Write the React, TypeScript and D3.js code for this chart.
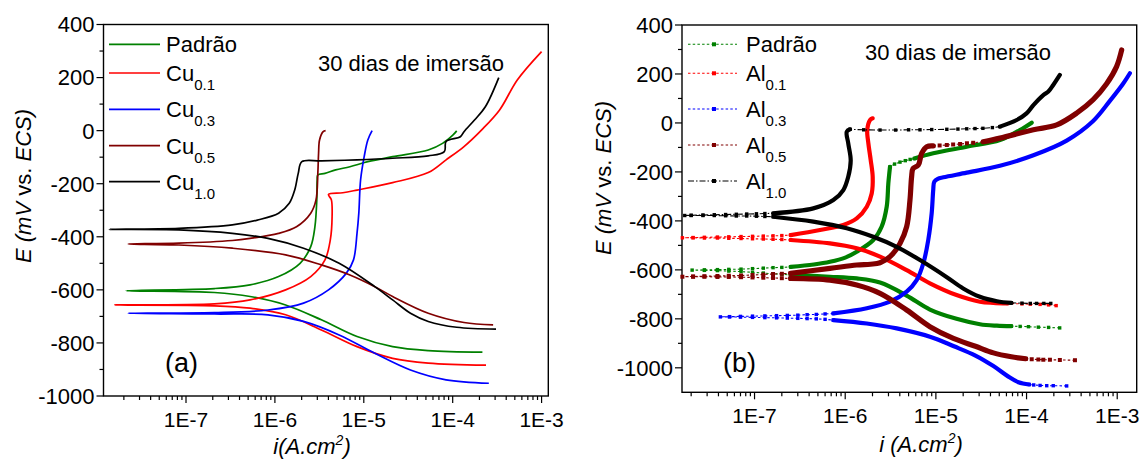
import React from 'react';
import * as d3 from 'd3';

type Pt = [number, number];

// ===== Panel (a): [i (A/cm²), E (mV vs ECS)] along each scan (cathodic end -> Ecorr -> anodic end)
const aPadrao: Pt[] = [
  [2.16e-4, -835], [5.31e-5, -829], [2.11e-5, -814], [8.39e-6, -776], [3.33e-6, -713], [1.32e-6, -657],
  [5.26e-7, -625], [2.09e-7, -610], [2.12e-8, -603],
  [2.09e-7, -595], [5.26e-7, -581], [1.10e-6, -550], [1.92e-6, -500], [2.53e-6, -437], [2.82e-6, -362],
  [2.96e-6, -261], [2.99e-6, -186], [3.04e-6, -167], [3.66e-6, -161], [4.82e-6, -148], [6.98e-6, -136],
  [1.11e-5, -117], [2.11e-5, -98], [5.31e-5, -73], [7.69e-5, -48], [1.01e-4, -16], [1.11e-4, -1],
];
const aCu01: Pt[] = [
  [2.37e-4, -884], [5.31e-5, -876], [2.11e-5, -858], [8.39e-6, -814], [3.33e-6, -751], [1.32e-6, -694],
  [5.26e-7, -669], [2.09e-7, -660], [1.58e-8, -657],
  [2.09e-7, -653], [5.26e-7, -638], [1.32e-6, -600], [2.53e-6, -550], [3.66e-6, -487], [4.20e-6, -412],
  [4.40e-6, -324], [4.32e-6, -261], [4.01e-6, -240], [5.81e-6, -234], [8.39e-6, -224], [2.11e-5, -196],
  [5.31e-5, -158], [8.43e-5, -110], [1.34e-4, -60], [2.12e-4, 3], [3.37e-4, 78], [5.33e-4, 191], [1.0e-3, 298],
];
const aCu03: Pt[] = [
  [2.55e-4, -952], [8.43e-5, -939], [3.35e-5, -902], [1.33e-5, -839], [5.28e-6, -770], [2.10e-6, -719],
  [8.36e-7, -694], [2.09e-7, -691], [2.24e-8, -688],
  [2.09e-7, -686], [8.36e-7, -676], [2.10e-6, -650], [4.01e-6, -600], [6.37e-6, -537], [7.66e-6, -487],
  [8.39e-6, -387], [8.79e-6, -311], [9.20e-6, -186], [1.01e-5, -98], [1.11e-5, -35], [1.24e-5, 0],
];
const aCu05: Pt[] = [
  [2.85e-4, -732], [1.34e-4, -723], [5.31e-5, -688], [2.11e-5, -625], [1.33e-5, -588], [6.98e-6, -544],
  [3.33e-6, -506], [1.32e-6, -468], [3.32e-7, -443], [8.32e-8, -431], [2.24e-8, -427],
  [8.32e-8, -424], [3.32e-7, -414], [5.26e-7, -406], [1.10e-6, -387], [1.75e-6, -362], [2.53e-6, -311],
  [2.90e-6, -261], [3.04e-6, -161], [3.10e-6, -85], [3.18e-6, -35], [3.49e-6, -4], [3.72e-6, 0],
];
const aCu10: Pt[] = [
  [3.07e-4, -748], [1.11e-4, -741], [5.31e-5, -719], [3.35e-5, -688], [2.11e-5, -638], [1.33e-5, -588],
  [5.28e-6, -500], [2.10e-6, -443], [8.36e-7, -406], [3.32e-7, -387], [8.32e-8, -374], [1.37e-8, -372],
  [8.32e-8, -368], [3.32e-7, -355], [6.34e-7, -337], [1.10e-6, -311], [1.45e-6, -274], [1.67e-6, -224],
  [1.83e-6, -161], [2.01e-6, -117], [3.33e-6, -114], [8.39e-6, -110], [2.11e-5, -104], [5.31e-5, -95],
  [8.05e-5, -79], [8.43e-5, -41], [1.22e-4, -23], [1.34e-4, -4], [1.76e-4, 40], [2.33e-4, 90], [3.30e-4, 200],
];

// ===== Panel (b): parts of each scan; "Tail/Ecorr/Pass" = sparse (markers), others = dense
const bPadCathTail: Pt[] = [[2.32e-4, -837], [1.75e-4, -835], [1.35e-4, -834], [1.05e-4, -832], [8.5e-5, -831], [6.8e-5, -830]];
const bPadCath: Pt[] = [[6.8e-5, -830], [4.7e-5, -828], [3.06e-5, -822], [1.69e-5, -800], [8.6e-6, -762], [4.76e-6, -705], [2.42e-6, -652], [1.34e-6, -635], [6.8e-7, -628], [2.5e-7, -621]];
const bPadEcorr: Pt[] = [[2.5e-7, -621], [2.0e-7, -618], [1.6e-7, -616], [1.25e-7, -613], [9.5e-8, -610], [7.1e-8, -607], [5.2e-8, -605], [3.9e-8, -603], [2.8e-8, -602], [2.05e-8, -601], [2.8e-8, -600], [3.9e-8, -599], [5.2e-8, -598], [7.1e-8, -597], [9.5e-8, -595], [1.25e-7, -593], [1.6e-7, -591], [2.0e-7, -590], [2.5e-7, -588]];
const bPadAnod: Pt[] = [[2.5e-7, -588], [4.5e-7, -578], [6.8e-7, -567], [1.0e-6, -550], [1.34e-6, -526], [2.04e-6, -478], [2.52e-6, -424], [2.87e-6, -342], [2.99e-6, -247], [3.12e-6, -179]];
const bPadPass: Pt[] = [[3.12e-6, -179], [3.5e-6, -168], [4.02e-6, -160], [4.6e-6, -154], [5.2e-6, -149], [5.8e-6, -145]];
const bPadAnod2: Pt[] = [[5.8e-6, -145], [9.35e-6, -124], [2.19e-5, -97], [5.09e-5, -70], [8.45e-5, -29], [1.14e-4, 1]];

const bAl01CathTail: Pt[] = [[2.12e-4, -746], [1.75e-4, -743], [1.41e-4, -741], [1.1e-4, -740], [8.9e-5, -739], [6.2e-5, -737]];
const bAl01Cath: Pt[] = [[6.2e-5, -737], [4.3e-5, -735], [3.06e-5, -730], [1.69e-5, -703], [8.6e-6, -655], [4.76e-6, -601], [2.42e-6, -546], [1.34e-6, -512], [6.8e-7, -492], [2.5e-7, -478]];
const bAl01Ecorr: Pt[] = [[2.5e-7, -478], [2.0e-7, -476], [1.6e-7, -475], [1.25e-7, -474], [9.5e-8, -473], [7.1e-8, -472], [5.2e-8, -471], [3.9e-8, -470], [2.8e-8, -470], [2.1e-8, -469], [1.6e-8, -469], [2.1e-8, -468], [2.8e-8, -467], [3.9e-8, -466], [5.2e-8, -465], [7.1e-8, -464], [9.5e-8, -463], [1.25e-7, -462], [1.6e-7, -461], [2.0e-7, -460], [2.5e-7, -458]];
const bAl01Anod: Pt[] = [[2.5e-7, -458], [5.27e-7, -437], [9.53e-7, -417], [1.34e-6, -390], [1.73e-6, -342], [1.96e-6, -288], [2.01e-6, -220], [1.91e-6, -151], [1.8e-6, -83], [1.75e-6, -29], [1.88e-6, 12], [2.01e-6, 19]];

const bAl03CathTail: Pt[] = [[2.77e-4, -1074], [1.97e-4, -1073], [1.67e-4, -1073], [1.41e-4, -1072], [1.2e-4, -1070], [1.07e-4, -1068]];
const bAl03Cath: Pt[] = [[1.07e-4, -1068], [8.15e-5, -1059], [6.19e-5, -1034], [4.31e-5, -993], [2.73e-5, -950], [1.58e-5, -912], [8.6e-6, -873], [3.7e-6, -839], [1.73e-6, -819], [7.4e-7, -805]];
const bAl03Ecorr: Pt[] = [[7.4e-7, -805], [6.0e-7, -802], [4.8e-7, -800], [3.8e-7, -799], [3.0e-7, -798], [2.3e-7, -797], [1.75e-7, -796], [1.3e-7, -795], [9.5e-8, -794], [7.0e-8, -793], [5.3e-8, -792], [4.2e-8, -792], [5.3e-8, -791], [7.0e-8, -790], [9.5e-8, -789], [1.3e-7, -788], [1.75e-7, -787], [2.3e-7, -786], [3.0e-7, -785], [3.8e-7, -783], [4.8e-7, -782], [6.0e-7, -780], [7.4e-7, -778]];
const bAl03Anod: Pt[] = [[7.4e-7, -778], [1.73e-6, -757], [3.12e-6, -730], [4.76e-6, -689], [6.14e-6, -642], [7.26e-6, -574], [8.24e-6, -478], [8.99e-6, -369], [9.35e-6, -274], [9.6e-6, -240], [1.05e-5, -228], [1.21e-5, -222], [2.19e-5, -203], [5.09e-5, -175], [1.19e-4, -132], [2.77e-4, -72], [5.43e-4, 8], [8.3e-4, 90], [1.16e-3, 160], [1.38e-3, 203]];

const bAl05CathTail: Pt[] = [[3.42e-4, -969], [2.33e-4, -968], [1.81e-4, -967], [1.53e-4, -967], [1.35e-4, -966], [1.14e-4, -965], [9.8e-5, -963]];
const bAl05Cath: Pt[] = [[9.8e-5, -963], [6.79e-5, -955], [4.31e-5, -939], [2.73e-5, -912], [1.56e-5, -880], [8.6e-6, -832], [4.76e-6, -764], [2.42e-6, -696], [1.34e-6, -662], [6.8e-7, -642], [2.5e-7, -635]];
const bAl05Ecorr: Pt[] = [[2.5e-7, -635], [2.0e-7, -634], [1.6e-7, -633], [1.25e-7, -632], [9.5e-8, -631], [7.1e-8, -630], [5.2e-8, -629], [3.9e-8, -629], [2.8e-8, -628], [2.1e-8, -628], [1.6e-8, -628], [2.1e-8, -627], [2.8e-8, -626], [3.9e-8, -625], [5.2e-8, -624], [7.1e-8, -623], [9.5e-8, -621], [1.25e-7, -619], [1.6e-7, -617], [2.0e-7, -616], [2.5e-7, -614]];
const bAl05Anod: Pt[] = [[2.5e-7, -614], [6.8e-7, -594], [1.34e-6, -580], [1.9e-6, -577], [2.42e-6, -571], [3.12e-6, -546], [4.02e-6, -492], [4.76e-6, -424], [5.18e-6, -315], [5.4e-6, -220], [5.6e-6, -186], [6.4e-6, -172], [6.97e-6, -124], [7.93e-6, -97], [9.35e-6, -94]];
const bAl05Pass: Pt[] = [[9.35e-6, -94], [1.1e-5, -92], [1.32e-5, -90], [1.55e-5, -88], [1.85e-5, -86], [2.2e-5, -83], [2.58e-5, -81], [3.33e-5, -77]];
const bAl05Anod2: Pt[] = [[3.33e-5, -77], [5.09e-5, -62], [1.19e-4, -28], [2.15e-4, -8], [3.57e-4, 40], [5.43e-4, 95], [7.64e-4, 160], [9.84e-4, 230], [1.12e-3, 298]];

const bAl10CathTail: Pt[] = [[1.85e-4, -737], [1.55e-4, -737], [1.29e-4, -737], [1.1e-4, -737], [8.9e-5, -736], [6.8e-5, -735]];
const bAl10Cath: Pt[] = [[6.8e-5, -735], [4.71e-5, -728], [3.06e-5, -710], [2.0e-5, -676], [1.32e-5, -630], [6.68e-6, -560], [3.7e-6, -506], [2.04e-6, -465], [1.04e-6, -430], [4.45e-7, -403], [1.61e-7, -383]];
const bAl10Ecorr: Pt[] = [[1.61e-7, -383], [1.3e-7, -382], [1.05e-7, -381], [8.2e-8, -380], [6.3e-8, -380], [4.8e-8, -379], [3.6e-8, -378], [2.7e-8, -378], [2.0e-8, -378], [1.7e-8, -378], [2.0e-8, -377], [2.7e-8, -376], [3.6e-8, -375], [4.8e-8, -374], [6.3e-8, -373], [8.2e-8, -372], [1.05e-7, -371], [1.3e-7, -370], [1.61e-7, -369]];
const bAl10Anod: Pt[] = [[1.61e-7, -369], [4.45e-7, -349], [7.4e-7, -315], [9.53e-7, -274], [1.08e-6, -220], [1.15e-6, -153], [1.08e-6, -83], [1.04e-6, -36], [1.13e-6, -26]];
const bAl10Pass: Pt[] = [[1.13e-6, -26], [1.6e-6, -28], [2.42e-6, -29], [3.6e-6, -29], [5.0e-6, -28], [6.68e-6, -28], [9.0e-6, -27], [1.32e-5, -26], [1.75e-5, -25], [2.19e-5, -24], [2.7e-5, -23], [3.3e-5, -22], [4.2e-5, -19], [5.09e-5, -15]];
const bAl10Anod2: Pt[] = [[5.09e-5, -15], [7.78e-5, 12], [1.0e-4, 39], [1.19e-4, 73], [1.53e-4, 114], [1.74e-4, 128], [1.97e-4, 155], [2.33e-4, 196]];

// ===== Labels, colours, ticks
const seriesColors = ['#008000', '#ff0000', '#0000ff', '#800000', '#000000'];
const aNames = ['Padrão', 'Cu', 'Cu', 'Cu', 'Cu'];
const bNames = ['Padrão', 'Al', 'Al', 'Al', 'Al'];
const subs = ['', '0.1', '0.3', '0.5', '1.0'];
const yTickValues = [-1000, -800, -600, -400, -200, 0, 200, 400];
const xTickValues = [1e-7, 1e-6, 1e-5, 1e-4, 1e-3];
const xTickLabels = ['1E-7', '1E-6', '1E-5', '1E-4', '1E-3'];
const annotation = '30 dias de imersão';

const aData = [aPadrao, aCu01, aCu03, aCu05, aCu10];
const bParts: [Pt[], boolean][][] = [
  [[bPadCathTail, false], [bPadCath, true], [bPadEcorr, false], [bPadAnod, true], [bPadPass, false], [bPadAnod2, true]],
  [[bAl01CathTail, false], [bAl01Cath, true], [bAl01Ecorr, false], [bAl01Anod, true]],
  [[bAl03CathTail, false], [bAl03Cath, true], [bAl03Ecorr, false], [bAl03Anod, true]],
  [[bAl05CathTail, false], [bAl05Cath, true], [bAl05Ecorr, false], [bAl05Anod, true], [bAl05Pass, false], [bAl05Anod2, true]],
  [[bAl10CathTail, false], [bAl10Cath, true], [bAl10Ecorr, false], [bAl10Anod, true], [bAl10Pass, false], [bAl10Anod2, true]],
];

const FONT = '"Liberation Sans", Arial, Helvetica, sans-serif';

type Box = { l: number; r: number; t: number; b: number };

function Axes({ x, y, box, yDomainMin }: { x: d3.ScaleLogarithmic<number, number>; y: d3.ScaleLinear<number, number>; box: Box; yDomainMin: number }) {
  const xAll = x.ticks();
  const isMajor = (v: number) => Math.abs(Math.log10(v) - Math.round(Math.log10(v))) < 1e-6;
  const yMinor = y.ticks(15).filter((v) => !yTickValues.includes(v) && v > yDomainMin);
  return (
    <g>
      <rect x={box.l} y={box.t} width={box.r - box.l} height={box.b - box.t} fill="none" stroke="#000" strokeWidth={1.4} />
      {xAll.map((v, i) => (
        <line key={'xt' + i} x1={x(v)} x2={x(v)} y1={box.b} y2={box.b + (isMajor(v) ? 7 : 4)} stroke="#000" strokeWidth={1.2} />
      ))}
      {xTickValues.map((v, i) => (
        <text key={'xl' + i} x={x(v)} y={box.b + 31} textAnchor="middle" fontSize={21} fontFamily={FONT} fill="#000">
          {xTickLabels[i]}
        </text>
      ))}
      {yTickValues.map((v) => (
        <g key={'yt' + v}>
          <line x1={box.l - 7} x2={box.l} y1={y(v)} y2={y(v)} stroke="#000" strokeWidth={1.2} />
          <text x={box.l - 9} y={y(v)} dy="0.36em" textAnchor="end" fontSize={22} fontFamily={FONT} fill="#000">
            {v}
          </text>
        </g>
      ))}
      {yMinor.map((v) => (
        <line key={'ym' + v} x1={box.l - 4} x2={box.l} y1={y(v)} y2={y(v)} stroke="#000" strokeWidth={1.2} />
      ))}
    </g>
  );
}

function LegendLabel({ x, y, name, sub }: { x: number; y: number; name: string; sub: string }) {
  return (
    <text x={x} y={y + 8} fontSize={22} fontFamily={FONT} fill="#000">
      {name}
      {sub && (
        <tspan fontSize={15} dy={9}>
          {sub}
        </tspan>
      )}
    </text>
  );
}

export default function App() {
  // Panel (a)
  const boxA: Box = { l: 103.5, r: 548.3, t: 24.5, b: 396 };
  const xA = d3.scaleLog().domain([1.18e-8, 1.19e-3]).range([boxA.l, boxA.r]);
  const yA = d3.scaleLinear().domain([-1000, 400]).range([boxA.b, boxA.t]);
  const lineA = d3
    .line<Pt>()
    .x((d) => xA(d[0]))
    .y((d) => yA(d[1]))
    .curve(d3.curveCatmullRom.alpha(0.5));

  // Panel (b)
  const boxB: Box = { l: 682, r: 1136.7, t: 25, b: 392.3 };
  const xB = d3.scaleLog().domain([1.585e-8, 1.64e-3]).range([boxB.l, boxB.r]);
  const yB = d3.scaleLinear().domain([-1100, 400]).range([boxB.b, boxB.t]);
  const lineB = d3
    .line<Pt>()
    .x((d) => xB(d[0]))
    .y((d) => yB(d[1]))
    .curve(d3.curveCatmullRom.alpha(0.5));
  const lineBLin = d3
    .line<Pt>()
    .x((d) => xB(d[0]))
    .y((d) => yB(d[1]));

  const legA = [44.3, 73, 109.3, 145.7, 181.7];
  const legB = [44.3, 73.3, 109, 145, 181];
  const dashFor = (k: number) => (k === 4 ? '6,2,1.5,2' : '2.5,2.2');

  return (
    <svg width={1143} height={459} style={{ position: 'absolute', left: 0, top: 0, background: '#fff' }}>
      <rect x={0} y={0} width={1143} height={459} fill="#fff" />
      {/* ---------- Panel (a) ---------- */}
      <Axes x={xA} y={yA} box={boxA} yDomainMin={-1000} />
      {aData.map((d, k) => (
        <path key={'a' + k} d={lineA(d) || ''} fill="none" stroke={seriesColors[k]} strokeWidth={1.7} strokeLinejoin="round" />
      ))}
      {legA.map((ly, k) => (
        <g key={'la' + k}>
          <line x1={109} x2={160} y1={ly} y2={ly} stroke={seriesColors[k]} strokeWidth={1.7} />
          <LegendLabel x={166} y={ly} name={aNames[k]} sub={subs[k]} />
        </g>
      ))}
      <text x={318} y={71} fontSize={22} fontFamily={FONT} fill="#000">{annotation}</text>
      <text x={165} y={372} fontSize={27} fontFamily={FONT} fill="#000">(a)</text>
      <text transform="translate(31,186) rotate(-90)" textAnchor="middle" fontSize={22} fontFamily={FONT} fill="#000">
        <tspan fontStyle="italic">E (mV</tspan>
        <tspan> vs. </tspan>
        <tspan fontStyle="italic">ECS)</tspan>
      </text>
      <text x={312} y={454} textAnchor="middle" fontSize={22} fontFamily={FONT} fontStyle="italic" fill="#000">
        i(A.cm<tspan fontSize={14} dy={-9}>2</tspan>
        <tspan dy={9}>)</tspan>
      </text>

      {/* ---------- Panel (b) ---------- */}
      <Axes x={xB} y={yB} box={boxB} yDomainMin={-1100} />
      {bParts.map((parts, k) => {
        const all: Pt[] = parts.flatMap(([p]) => p);
        const w = k === 3 ? 5.2 : 4.2;
        const ms = k === 3 ? 4 : 3.4;
        return (
          <g key={'b' + k}>
            <path d={lineBLin(all) || ''} fill="none" stroke={seriesColors[k]} strokeWidth={1.1} strokeDasharray={dashFor(k)} />
            {parts.map(([p, dense], j) =>
              dense ? (
                <path key={j} d={lineB(p) || ''} fill="none" stroke={seriesColors[k]} strokeWidth={w} strokeLinejoin="round" strokeLinecap="round" />
              ) : (
                <g key={j}>
                  {p.map((d, m) => (
                    <rect key={m} x={xB(d[0]) - ms / 2} y={yB(d[1]) - ms / 2} width={ms} height={ms} fill={seriesColors[k]} />
                  ))}
                </g>
              )
            )}
          </g>
        );
      })}
      {legB.map((ly, k) => (
        <g key={'lb' + k}>
          <line x1={688} x2={737} y1={ly} y2={ly} stroke={seriesColors[k]} strokeWidth={1.1} strokeDasharray={dashFor(k)} />
          <rect x={712} y={ly - 2} width={4} height={4} fill={seriesColors[k]} />
          <LegendLabel x={746} y={ly} name={bNames[k]} sub={subs[k]} />
        </g>
      ))}
      <text x={865} y={60} fontSize={22} fontFamily={FONT} fill="#000">{annotation}</text>
      <text x={723} y={372} fontSize={27} fontFamily={FONT} fill="#000">(b)</text>
      <text transform="translate(611,178) rotate(-90)" textAnchor="middle" fontSize={22} fontFamily={FONT} fill="#000">
        <tspan fontStyle="italic">E (mV</tspan>
        <tspan> vs. </tspan>
        <tspan fontStyle="italic">ECS)</tspan>
      </text>
      <text x={921} y={452} textAnchor="middle" fontSize={22} fontFamily={FONT} fontStyle="italic" fill="#000">
        i (A.cm<tspan fontSize={14} dy={-9}>2</tspan>
        <tspan dy={9}>)</tspan>
      </text>
    </svg>
  );
}
